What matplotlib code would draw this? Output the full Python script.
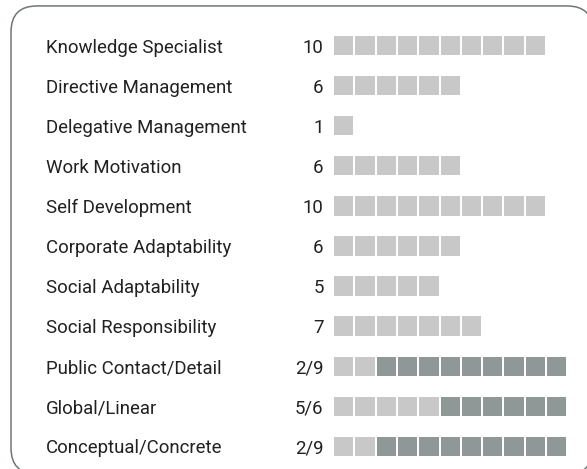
import matplotlib
matplotlib.use("Agg")
import matplotlib.pyplot as plt
import numpy as np
from matplotlib.patches import FancyBboxPatch

labels = ["Knowledge Specialist", "Directive Management", "Delegative Management",
          "Work Motivation", "Self Development", "Corporate Adaptability",
          "Social Adaptability", "Social Responsibility", "Public Contact/Detail",
          "Global/Linear", "Conceptual/Concrete"]
value_text = ["10", "6", "1", "6", "10", "6", "5", "7", "2/9", "5/6", "2/9"]
light_counts = [10, 6, 1, 6, 10, 6, 5, 7, 2, 5, 2]
dark_counts = [0, 0, 0, 0, 0, 0, 0, 0, 9, 6, 9]

LIGHT = "#c8c8c8"
DARK = "#8f9896"
TEXT = "#212121"

W, H = 587, 469
fig = plt.figure(figsize=(5.8705, 4.6905), dpi=100)

# background axes in pixel units for the rounded frame
bg = fig.add_axes([0, 0, 1, 1], zorder=0)
bg.set_axis_off()
bg.set_xlim(0, W)
bg.set_ylim(H, 0)
border = FancyBboxPatch((11, 6), 582, 468, boxstyle="round,pad=0,rounding_size=26",
                        facecolor="white", edgecolor="#6f7776", linewidth=1.1)
bg.add_patch(border)

ax = fig.add_axes([0, 0, 1, 1], zorder=1)
ax.set_axis_off()
ax.patch.set_alpha(0)

col_pitch = 21.3
row_pitch = 40.06
x0_px = 334
y0_px = 45.7
ax.set_xlim(-x0_px / col_pitch, (W - x0_px) / col_pitch)
ax.set_ylim((H - y0_px) / row_pitch, -y0_px / row_pitch)

sq_w = 19.3 / col_pitch
sq_h = 19.3 / row_pitch

for r, (lab, vt, nl, nd) in enumerate(zip(labels, value_text, light_counts, dark_counts)):
    if nl:
        ax.barh(r, sq_w, left=np.arange(nl), height=sq_h, color=LIGHT, align="center", linewidth=0)
    if nd:
        ax.barh(r, sq_w, left=np.arange(nl, nl + nd), height=sq_h, color=DARK, align="center", linewidth=0)
    ax.text((46 - x0_px) / col_pitch, r, lab, ha="left", va="center_baseline",
            fontsize=13.4, family="Roboto", color=TEXT)
    ax.text((323.5 - x0_px) / col_pitch, r, vt, ha="right", va="center_baseline",
            fontsize=13.4, family="Roboto", color=TEXT)

fig.savefig("out.png", dpi=100)
